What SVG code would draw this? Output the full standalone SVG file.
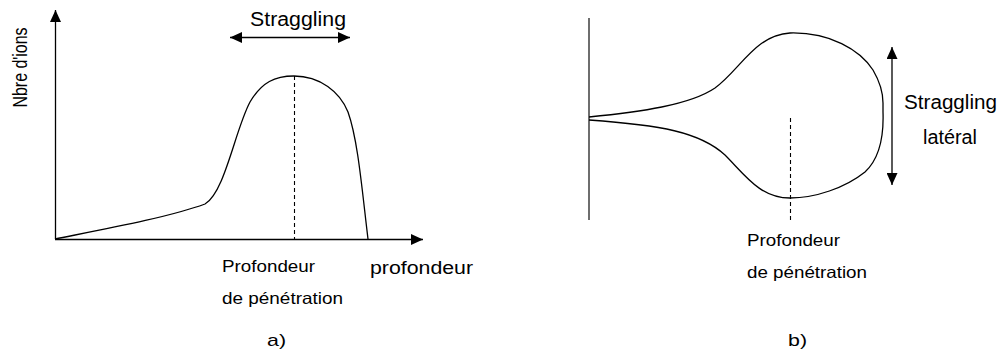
<svg xmlns="http://www.w3.org/2000/svg" width="1003" height="356" viewBox="0 0 1003 356">
<style>
.ln{fill:none;stroke:#000;stroke-width:1.3}
.dash{fill:none;stroke:#000;stroke-width:1.1;stroke-dasharray:4,3}
.t{font-family:"Liberation Sans",Arial,sans-serif;fill:#000}
</style>
<defs>
<marker id="ah" viewBox="0 0 12 11" refX="12" refY="5.5" markerWidth="12" markerHeight="11" markerUnits="userSpaceOnUse" orient="auto-start-reverse">
<path d="M0,0 L12,5.5 L0,11 z" fill="#000"/>
</marker>
</defs>
<rect width="1003" height="356" fill="#fff"/>
<g id="connectors">
<line id="y-axis" class="ln" x1="55.5" y1="239" x2="55.5" y2="10" marker-end="url(#ah)"/>
<line id="x-axis" class="ln" x1="55" y1="239.5" x2="423" y2="239.5" marker-end="url(#ah)"/>
<line id="straggling-arrow" class="ln" x1="230" y1="37.5" x2="350" y2="37.5" marker-start="url(#ah)" marker-end="url(#ah)"/>
<line id="lateral-arrow" class="ln" x1="892" y1="47" x2="892" y2="185" marker-start="url(#ah)" marker-end="url(#ah)"/>
</g>
<g id="panel-a">
<path id="distribution" class="ln" d="M55,239 C105,229 170,217 205,204 C225,192 235,130 250,102 C262,82 275,76 294,76 C320,76 340,92 348,112 C358,140 362,190 368,239"/>
<line id="peak-a" class="dash" x1="294.5" y1="76" x2="294.5" y2="239"/>
<text class="t" font-size="20.5" transform="translate(27,67.5) rotate(-90)" text-anchor="middle" textLength="80" lengthAdjust="spacingAndGlyphs">Nbre d'ions</text>
<text class="t" x="250" y="26" font-size="19.5" textLength="96" lengthAdjust="spacingAndGlyphs">Straggling</text>
<text class="t" x="222" y="272" font-size="16.5" textLength="93" lengthAdjust="spacingAndGlyphs">Profondeur</text>
<text class="t" x="222" y="304" font-size="16.5" textLength="121" lengthAdjust="spacingAndGlyphs">de pénétration</text>
<text class="t" x="370" y="274" font-size="18.7" textLength="103" lengthAdjust="spacingAndGlyphs">profondeur</text>
<text class="t" x="267" y="346" font-size="17" textLength="19" lengthAdjust="spacingAndGlyphs">a)</text>
</g>
<g id="panel-b">
<line id="surface" x1="589" y1="18" x2="589" y2="220" stroke="#6e6e6e" stroke-width="2"/>
<path id="ion-cloud" class="ln" d="M589,117 C640,112 690,105 715,88 C740,70 755,35 790,33 C830,32 860,50 873,70 C880,82 883,95 883,103 L883,112 C884,140 878,160 865,172 C845,188 815,198 790,198 C760,198 745,175 725,155 C700,132 660,125 589,120"/>
<line id="peak-b" class="dash" x1="790.5" y1="118" x2="790.5" y2="220"/>
<text class="t" x="904" y="109" font-size="19.5" textLength="93" lengthAdjust="spacingAndGlyphs">Straggling</text>
<text class="t" x="923" y="144" font-size="19.5" textLength="54" lengthAdjust="spacingAndGlyphs">latéral</text>
<text class="t" x="747" y="246" font-size="16.5" textLength="93" lengthAdjust="spacingAndGlyphs">Profondeur</text>
<text class="t" x="747" y="278" font-size="16.5" textLength="120" lengthAdjust="spacingAndGlyphs">de pénétration</text>
<text class="t" x="788" y="346" font-size="17" textLength="19" lengthAdjust="spacingAndGlyphs">b)</text>
</g>
</svg>
